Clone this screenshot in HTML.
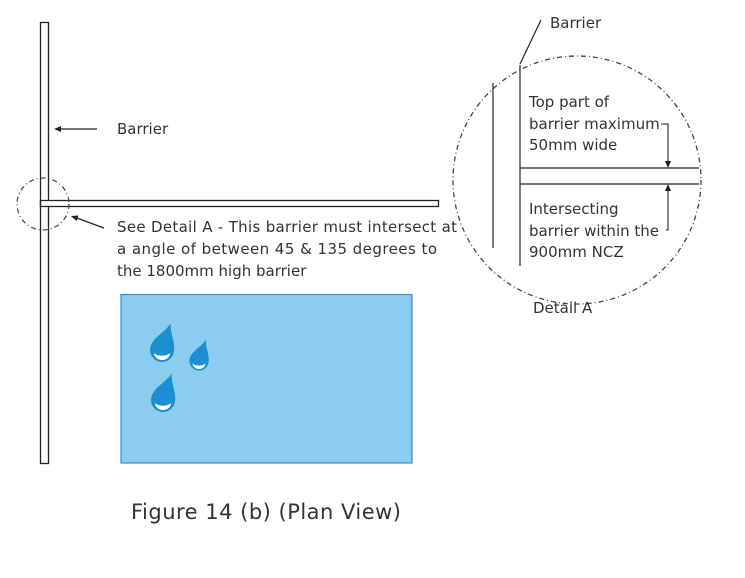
<!DOCTYPE html>
<html><head><style>body{margin:0;background:#fff}svg{display:block}text{font-family:"DejaVu Sans","Liberation Sans",sans-serif;fill:#333;font-size:15px}</style></head><body>
<svg width="745" height="578" viewBox="0 0 745 578">
<defs>
<g id="drop"><path d="M0,-28 C3,-17 12,-10 12,0 A12,12 0 1 1 -12,0 C-12,-10 -3,-17 0,-28 Z" fill="#1b8fd0"/></g>
<path id="smile" d="M-8,1 A8,7 0 0 0 8,1 A9,5 0 0 1 -8,1 Z" fill="#fff"/>
</defs>
<rect x="40.5" y="22.5" width="8" height="441" fill="#fff" stroke="#222" stroke-width="1.3"/>
<rect x="40.5" y="200.5" width="398" height="6" fill="#fff" stroke="#222" stroke-width="1.3"/>
<line x1="40.5" y1="200" x2="40.5" y2="207" stroke="#222" stroke-width="1.3"/>
<circle cx="43" cy="204" r="26" fill="none" stroke="#444" stroke-width="1.2" stroke-dasharray="5,3,1,3"/>
<line x1="97" y1="129" x2="57" y2="129" stroke="#222" stroke-width="1.2"/><path d="M54,129 l7,-3 v6z" fill="#222"/>
<text x="117" y="134">Barrier</text>
<line x1="104" y1="228" x2="74" y2="217" stroke="#222" stroke-width="1.2"/><path d="M71,216 l7.5,-0.5 l-2,5.5z" fill="#222"/>
<text x="117" y="232" textLength="340">See Detail A - This barrier must intersect at</text>
<text x="117" y="254" textLength="320">a angle of between 45 &amp; 135 degrees to</text>
<text x="117" y="276">the 1800mm high barrier</text>
<rect x="121" y="294.5" width="291" height="168.5" fill="#8acdee" stroke="#3d8fc0" stroke-width="1.2"/>
<g transform="translate(162,350)"><g transform="rotate(18)"><use href="#drop"/></g><use href="#smile" y="2"/></g>
<g transform="translate(199,361) scale(0.8)"><g transform="rotate(18)"><use href="#drop"/></g><use href="#smile" y="2"/></g>
<g transform="translate(163,400)"><g transform="rotate(18)"><use href="#drop"/></g><use href="#smile" y="2"/></g>
<circle cx="577" cy="180" r="124" fill="none" stroke="#444" stroke-width="1.3" stroke-dasharray="5,3,1,3"/>
<line x1="493" y1="83" x2="493" y2="248" stroke="#222" stroke-width="1.2"/>
<line x1="520" y1="65" x2="520" y2="266" stroke="#222" stroke-width="1.2"/>
<line x1="520" y1="168" x2="699" y2="168" stroke="#222" stroke-width="1.2"/>
<line x1="520" y1="184" x2="699" y2="184" stroke="#222" stroke-width="1.2"/>
<line x1="520" y1="64" x2="541" y2="20" stroke="#222" stroke-width="1.2"/>
<text x="550" y="28">Barrier</text>
<text x="529" y="107">Top part of</text>
<text x="529" y="129">barrier maximum</text>
<text x="529" y="150">50mm wide</text>
<text x="529" y="214">Intersecting</text>
<text x="529" y="236">barrier within the</text>
<text x="529" y="257">900mm NCZ</text>
<polyline points="661,124 668,124 668,162" fill="none" stroke="#222" stroke-width="1.1"/><path d="M668,168 l-3,-7 h6z" fill="#222"/>
<polyline points="666,230 668,230 668,190" fill="none" stroke="#222" stroke-width="1.1"/><path d="M668,184 l-3,7 h6z" fill="#222"/>
<text x="533" y="313">Detail A</text>
<text x="131" y="519" style="font-size:21px" textLength="270">Figure 14 (b) (Plan View)</text>
</svg>
</body></html>
